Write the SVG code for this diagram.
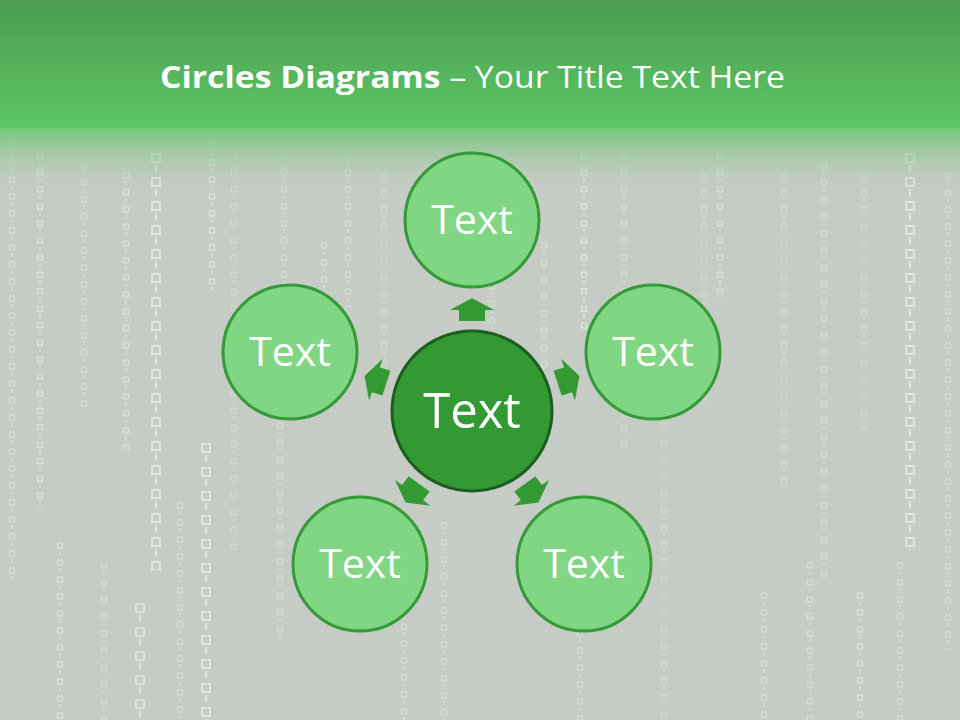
<svg xmlns="http://www.w3.org/2000/svg" width="960" height="720" viewBox="0 0 960 720">
<defs>
<linearGradient id="hdr" x1="0" y1="0" x2="0" y2="1">
<stop offset="0" stop-color="#4b9d51"/>
<stop offset="1" stop-color="#5dc665"/>
</linearGradient>
<linearGradient id="fade" x1="0" y1="0" x2="0" y2="1">
<stop offset="0" stop-color="#6cc872" stop-opacity="1"/>
<stop offset="1" stop-color="#c6cbc5" stop-opacity="0"/>
</linearGradient>
<pattern id="sq" width="8" height="17" patternUnits="userSpaceOnUse">
<rect x="1.5" y="3" width="5" height="5" fill="none" stroke="#d8f5d4" stroke-width="1.2"/>
<line x1="4" y1="11" x2="4" y2="15" stroke="#d8f5d4" stroke-width="1.2"/>
</pattern>
<pattern id="sqL" width="12" height="24" patternUnits="userSpaceOnUse">
<rect x="2" y="4" width="8" height="8" fill="none" stroke="#e4f8e0" stroke-width="1.6"/>
<line x1="6" y1="15" x2="6" y2="22" stroke="#e4f8e0" stroke-width="1.6"/>
</pattern>
<path id="arw" d="M0,-12 L22,0 L13,0 L13,11 L-13,11 L-13,0 L-22,0 Z"/>
</defs>
<style>
.outer{fill:#80d683;stroke:#359a3a;stroke-width:3}
.center{fill:#339933;stroke:#1b5e1f;stroke-width:3}
.lbl{font-family:"Open Sans","Liberation Sans",sans-serif;fill:#ffffff;text-anchor:middle}
.arrow{fill:#339933}
</style>
<rect x="0" y="0" width="960" height="720" fill="#c6cbc5"/>
<g id="rain">
<rect transform="translate(8,140)" width="8" height="440" fill="url(#sq)" opacity="0.6"/>
<rect transform="translate(36,150)" width="8" height="360" fill="url(#sq)" opacity="0.75"/>
<rect transform="translate(80,160)" width="8" height="250" fill="url(#sq)" opacity="0.5"/>
<rect transform="translate(150,150)" width="12" height="420" fill="url(#sqL)" opacity="0.9"/>
<rect transform="translate(122,170)" width="8" height="280" fill="url(#sq)" opacity="0.7"/>
<rect transform="translate(208,140)" width="8" height="150" fill="url(#sq)" opacity="0.85"/>
<rect transform="translate(230,150)" width="8" height="400" fill="url(#sq)" opacity="0.4"/>
<rect transform="translate(200,440)" width="12" height="280" fill="url(#sqL)" opacity="0.85"/>
<rect transform="translate(280,150)" width="8" height="250" fill="url(#sq)" opacity="0.5"/>
<rect transform="translate(276,420)" width="8" height="220" fill="url(#sq)" opacity="0.55"/>
<rect transform="translate(320,240)" width="8" height="90" fill="url(#sq)" opacity="0.7"/>
<rect transform="translate(344,150)" width="8" height="160" fill="url(#sq)" opacity="0.6"/>
<rect transform="translate(380,170)" width="8" height="200" fill="url(#sq)" opacity="0.45"/>
<rect transform="translate(56,540)" width="8" height="180" fill="url(#sq)" opacity="0.75"/>
<rect transform="translate(100,560)" width="8" height="160" fill="url(#sq)" opacity="0.5"/>
<rect transform="translate(134,600)" width="12" height="120" fill="url(#sqL)" opacity="0.7"/>
<rect transform="translate(176,500)" width="8" height="220" fill="url(#sq)" opacity="0.5"/>
<rect transform="translate(400,570)" width="8" height="150" fill="url(#sq)" opacity="0.6"/>
<rect transform="translate(440,520)" width="8" height="200" fill="url(#sq)" opacity="0.5"/>
<rect transform="translate(488,230)" width="8" height="110" fill="url(#sq)" opacity="0.55"/>
<rect transform="translate(540,240)" width="8" height="180" fill="url(#sq)" opacity="0.6"/>
<rect transform="translate(580,150)" width="8" height="180" fill="url(#sq)" opacity="0.85"/>
<rect transform="translate(576,560)" width="8" height="160" fill="url(#sq)" opacity="0.55"/>
<rect transform="translate(620,150)" width="8" height="300" fill="url(#sq)" opacity="0.5"/>
<rect transform="translate(660,420)" width="8" height="300" fill="url(#sq)" opacity="0.4"/>
<rect transform="translate(700,170)" width="8" height="240" fill="url(#sq)" opacity="0.45"/>
<rect transform="translate(716,150)" width="8" height="150" fill="url(#sq)" opacity="0.7"/>
<rect transform="translate(760,590)" width="8" height="130" fill="url(#sq)" opacity="0.6"/>
<rect transform="translate(780,170)" width="8" height="320" fill="url(#sq)" opacity="0.45"/>
<rect transform="translate(806,560)" width="8" height="160" fill="url(#sq)" opacity="0.55"/>
<rect transform="translate(820,160)" width="8" height="420" fill="url(#sq)" opacity="0.55"/>
<rect transform="translate(856,590)" width="8" height="130" fill="url(#sq)" opacity="0.75"/>
<rect transform="translate(860,170)" width="8" height="260" fill="url(#sq)" opacity="0.4"/>
<rect transform="translate(904,150)" width="12" height="400" fill="url(#sqL)" opacity="0.85"/>
<rect transform="translate(944,170)" width="8" height="480" fill="url(#sq)" opacity="0.55"/>
<rect transform="translate(896,560)" width="8" height="160" fill="url(#sq)" opacity="0.5"/>
</g>
<rect x="0" y="126" width="960" height="70" fill="url(#fade)"/>
<rect x="0" y="0" width="960" height="128" fill="url(#hdr)"/>
<text x="160" y="88" font-family="'Open Sans','Liberation Sans',sans-serif" font-size="31" fill="#ffffff" textLength="625" lengthAdjust="spacingAndGlyphs"><tspan font-weight="bold">Circles Diagrams</tspan> – Your Title Text Here</text>
<g id="connectors">
<use href="#arw" class="arrow" transform="translate(472,411) rotate(0) translate(0,-101)"/>
<use href="#arw" class="arrow" transform="translate(472,411) rotate(72) translate(0,-101)"/>
<use href="#arw" class="arrow" transform="translate(472,411) rotate(144) translate(0,-101)"/>
<use href="#arw" class="arrow" transform="translate(472,411) rotate(216) translate(0,-101)"/>
<use href="#arw" class="arrow" transform="translate(472,411) rotate(288) translate(0,-101)"/>
</g>
<g id="node-center">
<circle class="center" cx="472" cy="411" r="80"/>
<text class="lbl" x="472" y="428" font-size="49">Text</text>
</g>
<g id="node-top">
<circle class="outer" cx="472" cy="220" r="67"/>
<text class="lbl" x="472" y="234" font-size="41">Text</text>
</g>
<g id="node-left">
<circle class="outer" cx="290" cy="352" r="67"/>
<text class="lbl" x="290" y="366" font-size="41">Text</text>
</g>
<g id="node-right">
<circle class="outer" cx="653" cy="352" r="67"/>
<text class="lbl" x="653" y="366" font-size="41">Text</text>
</g>
<g id="node-bottom-left">
<circle class="outer" cx="360" cy="564" r="67"/>
<text class="lbl" x="360" y="578" font-size="41">Text</text>
</g>
<g id="node-bottom-right">
<circle class="outer" cx="584" cy="564" r="67"/>
<text class="lbl" x="584" y="578" font-size="41">Text</text>
</g>
</svg>
